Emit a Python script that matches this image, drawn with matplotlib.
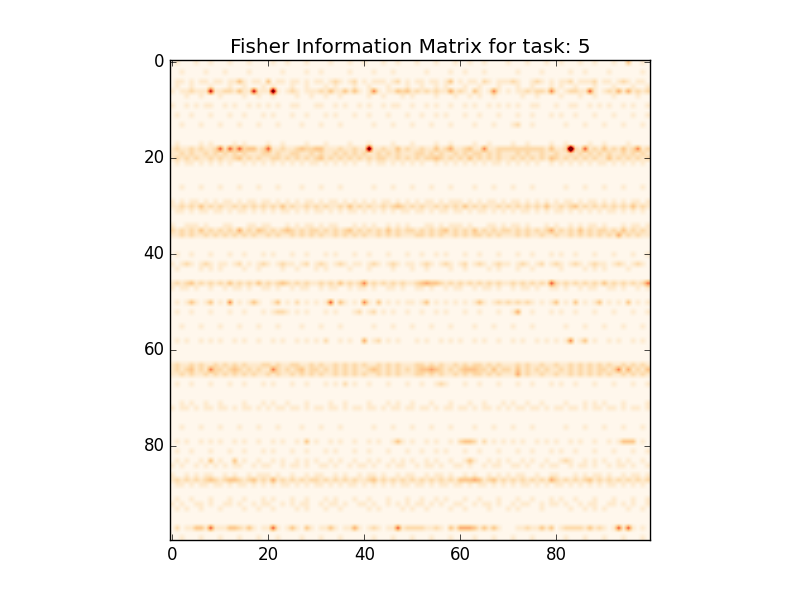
import numpy as np
import matplotlib
matplotlib.use("Agg")
import matplotlib.pyplot as plt

plt.style.use("classic")

TASK = 5
N_PARAMS = 100
TITLE = f"Fisher Information Matrix for task: {TASK}"

# Estimated Fisher values, one hex digit per column
# (0 = background, 9 and above = darkest red). Rows that are not listed are background.
ROW_0 = "0100010010 0010001000 0100100010 0001000100 1000100100 0100010001 0010010000 1000100010 0100010010 0010030010"
ROW_2 = "0010000100 0100001000 0001000010 0100000100 0010001000 0001000010 0100010000 0010000100 0001001000 0100000010"
ROW_4 = "0110101101 1011310110 3011011010 1101210120 1011101201 0110110130 1011021011 1210012101 0112011120 1101210110"
ROW_5 = "0100100010 0010010001 0100010010 0010100010 0100010001 0010010100 0100100010 0010010001 0100100010 0010001001"
ROW_6 = "1011211181 1221311811 1b10121011 1213113131 0151011323 1212121141 2103101510 1011212215 1012211610 1214141212"
ROW_7 = "0001001000 1000010010 0100001001 0010010000 0100100010 1000010001 0010100100 0001001000 0100010010 0010000100"
ROW_9 = "1001010110 0101001010 1010011000 1100101001 0100101100 1001010010 0101001010 1010011000 1001100101 0100101001"
ROW_11 = "0100100010 0010010001 0100010010 0010100010 0100010001 0010010100 0100100010 0010010001 0100100010 0010001001"
ROW_13 = "0010001000 1000100010 0010000100 0100010000 0010001000 1000100010 0001000100 0120010000 0010001000 1000100010"
ROW_17 = "0100001010 0001010000 1001000010 0010000100 0100001000 1000010010 0001001000 0100100001 0010000100 1000010000"
ROW_18 = "1211212112 6162623312 6112112322 3311121121 1b11211312 1121131241 1231151122 2222222213 112e216121 3121312512"
ROW_19 = "1121211212 1212121112 2121122112 1211212121 2112121211 1221212112 1212212121 1121211211 2112121212 1211212121"
ROW_20 = "1212121121 2112312121 1221212121 2312121212 1212211212 1212232121 2131212121 1212121213 2121212121 1312121212"
ROW_21 = "0101101010 1010010101 0101010101 1010101010 0101101010 1010010101 0101010110 1010101001 0101010101 1010101010"
ROW_26 = "0010001000 1000100010 0010000100 0100010000 0010001000 1000100010 0001000100 0100010000 0010001000 1000100010"
ROW_29 = "1010110101 0110101101 1010101011 0101101010 1010110101 0101101011 1010101101 0110101010 1011010110 1010101101"
ROW_30 = "1121213121 2112121212 1213121121 2121121312 1211212321 2121121212 1312121121 2121212131 1212312121 2121213121"
ROW_31 = "0110101101 1010110101 0101101010 1101010110 1010101011 0110101101 1010110101 0101101010 1101010101 0110101010"
ROW_34 = "1001110100 0110001101 1000101011 0101100010 1010010101 0001101011 1010001101 0110100010 1001010110 1000101101"
ROW_35 = "2121213121 2121412132 1212321212 2121212312 1212131212 2121212312 1213121212 2121212124 1212131212 2121312121"
ROW_36 = "1121211212 1212121211 2121121212 1211212121 2112121211 1221212112 1212212121 1121211211 2112121212 1214121211"
ROW_40 = "0100100010 0010010001 0100010010 0010100010 0100010001 0010010100 0100100010 0010010001 0100100010 0010001001"
ROW_42 = "1012101210 1101201012 1012110120 1210121011 0121012101 1012101210 1201210121 1012101201 2101210121 1012101210"
ROW_43 = "0100001010 1000010010 0001001000 1010000100 0100001000 1001000010 0100001010 0010010000 0100001010 1000010000"
ROW_46 = "1212312121 2131212131 2123212121 1212131212 5121212121 1234332121 2121212121 1212121216 2121212121 3121212125"
ROW_47 = "1011010010 0101101001 1010010110 0101100101 1010011010 0110100101 1001011010 0101101001 1010010110 0110100101"
ROW_50 = "0101310130 1050101310 0130102010 1016031010 5103010101 1013010101 0101310121 2121210101 3010301013 0101030101"
ROW_52 = "0100100010 0010010001 0122101010 0010100012 0120101001 0010010100 0100100010 0140010001 0100100010 0010001001"
ROW_55 = "0010001000 1000100010 0010000100 0100010000 0010001000 1000100010 0001000100 0100010000 0010001000 1000100010"
ROW_58 = "0101001010 1001010010 0101001010 1020010100 4012010100 0101001010 1001010010 0101001010 1015013010 0101001010"
ROW_63 = "1211212112 1212121112 2121122112 1211212121 2112121211 1221212112 1212212121 1121211211 2112121212 1211212121"
ROW_64 = "1212312152 2123212121 1521212312 2121212121 1232121212 1233432121 2333221312 2131212121 1212121212 2125141213"
ROW_65 = "1121211212 1212121211 2121121212 1211212121 2112121211 1221212112 1212212121 1141211211 2112121212 1211212121"
ROW_67 = "0100100010 0010010001 0100010010 0010102010 0100010001 0010012100 0100100010 0010010001 0100100010 0010001001"
ROW_71 = "0010100100 1000010001 0100100010 0001001000 0100010100 1000100010 0010010001 0100100100 0010001010 1000100001"
ROW_72 = "1011010110 1101011010 1011011010 1101101011 0110101101 1011010110 1101011010 1011011010 1101101011 0110101101"
ROW_76 = "0010001000 1000100010 0010000100 0100010000 0010001000 1000100010 0001000100 0100010000 0010001000 1000100010"
ROW_79 = "0101001010 1001010010 0101001030 1001010010 0101001310 1001010010 2332020101 0101001010 1001010010 0101333010"
ROW_81 = "0100100010 0010010001 0100010010 0010100010 0100010001 0010010100 0100100010 0010010001 0100100010 0010001001"
ROW_83 = "0101001030 1003010010 0101001010 1001010010 0101001010 1001010010 0131001010 1001010010 0121001010 1001010010"
ROW_84 = "1010010101 0101100101 1001011010 0110100101 1010010110 0101101001 1010010110 0110100101 1001011010 0101101001"
ROW_86 = "1001010110 0101001011 1010010010 1100101001 0110100101 1001011010 0101001010 1011001001 1000101011 0100101101"
ROW_87 = "1212121232 1233212312 1412121212 2121212121 1231212121 2121212121 3334312312 1212121214 2121212312 1212121212"
ROW_88 = "0110101101 1010110101 0101101010 1101010110 1010101011 0110101101 1010110101 0101101010 1101010101 0110101010"
ROW_91 = "0100100010 0010010001 0100010010 0010100010 0100010001 0010010100 0100100010 0010010001 0100100010 0010001001"
ROW_92 = "1010011010 0110100101 1001010110 0101101001 1010010101 0110101001 1001011010 0101100101 1010010110 0110101001"
ROW_93 = "0101001000 1000010010 0100001010 0010010000 0101000010 1001000010 0100001000 1010000100 0001001010 1000010010"
ROW_97 = "0201133161 1133213101 1610131031 0113101141 0121011612 2221121031 4443131310 0011211313 0122221312 1016161010"
ROW_99 = "0010001000 1000100010 0010000100 0100010000 0010001000 1000100010 0001000100 0100010000 0010001000 1000100010"

ROWS = {
    0: ROW_0, 2: ROW_2, 4: ROW_4, 5: ROW_5, 6: ROW_6, 7: ROW_7, 9: ROW_9, 11: ROW_11,
    13: ROW_13, 17: ROW_17, 18: ROW_18, 19: ROW_19, 20: ROW_20, 21: ROW_21, 26: ROW_26,
    29: ROW_29, 30: ROW_30, 31: ROW_31, 34: ROW_34, 35: ROW_35, 36: ROW_36, 40: ROW_40,
    42: ROW_42, 43: ROW_43, 46: ROW_46, 47: ROW_47, 50: ROW_50, 52: ROW_52, 55: ROW_55,
    58: ROW_58, 63: ROW_63, 64: ROW_64, 65: ROW_65, 67: ROW_67, 71: ROW_71, 72: ROW_72,
    76: ROW_76, 79: ROW_79, 81: ROW_81, 83: ROW_83, 84: ROW_84, 86: ROW_86, 87: ROW_87,
    88: ROW_88, 91: ROW_91, 92: ROW_92, 93: ROW_93, 97: ROW_97, 99: ROW_99,
}


def build_matrix(rows, n):
    mat = np.zeros((n, n), dtype=np.float64)
    for r, pattern in rows.items():
        digits = pattern.replace(" ", "")
        assert len(digits) == n, (r, len(digits))
        mat[r] = [int(ch, 16) for ch in digits]
    return mat


fisher = build_matrix(ROWS, N_PARAMS)

fig = plt.figure(figsize=(8, 6), dpi=100)
ax = fig.add_subplot(111)
ax.imshow(fisher, cmap="OrRd", interpolation="bilinear", vmin=0, vmax=9)
ax.set_title(TITLE)

fig.savefig("out.png", dpi=100)
